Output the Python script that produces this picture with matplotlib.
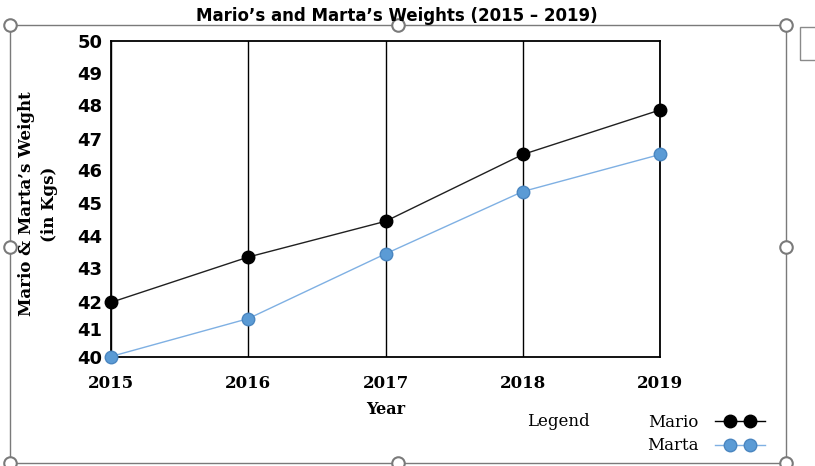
import matplotlib
matplotlib.use("Agg")
import matplotlib.pyplot as plt
import numpy as np
from matplotlib.lines import Line2D
from matplotlib.patches import Rectangle
from matplotlib.legend_handler import HandlerLine2D, HandlerTuple

# data
years = ["2015", "2016", "2017", "2018", "2019"]
mario = [42.0, 43.35, 44.45, 46.5, 47.85]
marta = [40.0, 41.4, 43.45, 45.35, 46.5]

# the value axis of the original is drawn unevenly, tick k sits at this height (px)
y_ticks = [40, 41, 42, 43, 44, 45, 46, 47, 48, 49, 50]
y_tick_px = [0, 27, 54, 88, 120, 153, 186, 217, 251, 283, 315]

W, H = 815, 466

MARIO_LINE = "#202020"
MARTA_LINE = "#7fb0e3"
MARTA_FILL = "#5b9bd5"
MARTA_EDGE = "#4a86c0"


def fx(x):
    return x / W


def fy(y):
    return 1 - y / H


def fwd(v):
    return np.interp(v, y_ticks, y_tick_px)


def inv(p):
    return np.interp(p, y_tick_px, y_ticks)


fig = plt.figure(figsize=(W / 100, H / 100), dpi=100)
ax = fig.add_axes([fx(111), fy(356.5), (660 - 111) / W, 315.8 / H])

x = np.arange(len(years))
ax.plot(x, mario, color=MARIO_LINE, lw=1.0, marker="o", ms=9,
        mfc="black", mec="black", zorder=4, clip_on=False)
ax.plot(x, marta, color=MARTA_LINE, lw=1.0, marker="o", ms=9,
        mfc=MARTA_FILL, mec=MARTA_EDGE, zorder=4, clip_on=False)

ax.set_yscale("function", functions=(fwd, inv))
ax.set_ylim(40, 50)
ax.set_xlim(0, len(years) - 1)
ax.set_yticks(y_ticks)
ax.set_yticklabels([str(t) for t in y_ticks], fontsize=13, fontweight="bold",
                   family="DejaVu Sans")
ax.set_xticks(x)
ax.set_xticklabels(years, fontsize=12, fontweight="bold", family="DejaVu Serif")
ax.tick_params(length=0)
ax.tick_params(axis="x", pad=13)
ax.tick_params(axis="y", pad=6)
ax.grid(axis="x", color="black", lw=1.0)
for s in ax.spines.values():
    s.set_linewidth(1.3)

ax.set_xlabel("Year", fontsize=11.5, fontweight="bold", family="DejaVu Serif",
              labelpad=7)

fig.text(fx(38), fy(204), "Mario & Marta’s Weight\n(in Kgs)", rotation=90,
         ha="center", va="center", multialignment="center", fontsize=12,
         fontweight="bold", family="DejaVu Serif", linespacing=1.4)

fig.text(fx(397), fy(16), "Mario’s and Marta’s Weights (2015 – 2019)",
         ha="center", va="center", fontsize=12, fontweight="bold")

# legend: a full-length line with two markers inset on it
fig.text(fx(558), fy(422), "Legend", ha="center", va="center", fontsize=12,
         family="DejaVu Serif")
l1 = Line2D([], [], color="black", lw=1.0)
m1 = Line2D([], [], ls="none", marker="o", ms=9, mfc="black", mec="black")
l2 = Line2D([], [], color=MARTA_LINE, lw=1.0)
m2 = Line2D([], [], ls="none", marker="o", ms=9, mfc=MARTA_FILL, mec=MARTA_EDGE)
hmap = {
    l1: HandlerLine2D(numpoints=1),
    l2: HandlerLine2D(numpoints=1),
    m1: HandlerLine2D(numpoints=2, marker_pad=0.9),
    m2: HandlerLine2D(numpoints=2, marker_pad=0.9),
    tuple: HandlerTuple(ndivide=1),
}
fig.legend([(l1, m1), (l2, m2)], ["Mario", "Marta"], loc="center left",
           bbox_to_anchor=(fx(632), fy(434)), frameon=False, markerfirst=False,
           handlelength=3.0, handletextpad=1.0, labelspacing=0.4,
           prop={"family": "DejaVu Serif", "size": 12}, handler_map=hmap)

# selection frame of the embedded chart
frame = Rectangle((fx(10), fy(463)), (785.5 - 10) / W, (463 - 25) / H,
                  transform=fig.transFigure, fill=False, ec="#7a7a7a", lw=1.0)
fig.add_artist(frame)
for hx, hy in [(10, 25), (397.5, 25), (785.5, 25), (10, 247), (785.5, 247),
               (10, 463), (397.5, 463), (785.5, 463)]:
    fig.add_artist(Line2D([fx(hx)], [fy(hy)], marker="o", ms=9, mfc="white",
                          mec="#7a7a7a", mew=1.5, transform=fig.transFigure))
fig.add_artist(Rectangle((fx(800), fy(60)), 20 / W, 33 / H, transform=fig.transFigure,
                         fill=False, ec="#8a8a8a", lw=1.0))

fig.savefig("out.png", dpi=100)
